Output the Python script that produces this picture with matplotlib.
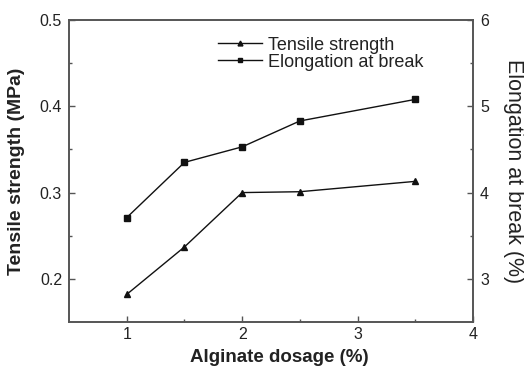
import matplotlib.pyplot as plt

plt.rcParams['font.family'] = ['Liberation Sans', 'DejaVu Sans']

dosage = [1.0, 1.5, 2.0, 2.5, 3.5]
tensile = [0.182, 0.237, 0.300, 0.301, 0.313]
elongation = [3.71, 4.35, 4.53, 4.83, 5.08]

txt = '#222222'
spine = '#555555'

fig = plt.figure(figsize=(5.24, 3.74), dpi=100)
ax = fig.add_axes([0.1317, 0.139, 0.771, 0.8075])
ax2 = ax.twinx()

l1, = ax.plot(dosage, tensile, '-', color='#111111', lw=1.0,
              marker='^', ms=5, label='Tensile strength')
l2, = ax2.plot(dosage, elongation, '-', color='#111111', lw=1.0,
               marker='s', ms=4, label='Elongation at break')

ax.set(xlim=(0.5, 4), ylim=(0.15, 0.5),
       xticks=[1, 2, 3, 4], yticks=[0.2, 0.3, 0.4, 0.5])
ax2.set(ylim=(2.5, 6), yticks=[3, 4, 5, 6])
ax.set_xticks([1.5, 2.5, 3.5], minor=True)
ax.set_yticks([0.25, 0.35, 0.45], minor=True)
ax2.set_yticks([3.5, 4.5, 5.5], minor=True)

for a in (ax, ax2):
    for s in a.spines.values():
        s.set_color(spine)
        s.set_linewidth(1.2)
    a.tick_params(direction='in', length=4, width=1, color=spine,
                  labelsize=11.5, labelcolor=txt)
    a.tick_params(which='minor', direction='in', length=2, width=1, color=spine)
ax.tick_params(axis='y', pad=5)
ax2.tick_params(axis='y', pad=5)

ax.set_xlabel('Alginate dosage (%)', fontsize=13.5, fontweight='bold',
              color=txt, va='center')
ax.xaxis.set_label_coords(0.52, -0.119)
ax.set_ylabel('Tensile strength (MPa)', fontsize=14, fontweight='bold',
              color=txt, va='center')
ax.yaxis.set_label_coords(-0.129, 0.5)
ax2.set_ylabel('Elongation at break (%)', fontsize=15.5, color=txt,
               rotation=270, va='center')
ax2.yaxis.set_label_coords(1.099, 0.5)

leg = ax.legend([l1, l2], [l1.get_label(), l2.get_label()],
                loc='upper left', bbox_to_anchor=(0.369, 0.945),
                borderaxespad=0, borderpad=0, markerscale=0.7,
                frameon=False, fontsize=13, handlelength=2.45,
                handletextpad=0.33, labelspacing=0.0)
for t in leg.get_texts():
    t.set_color(txt)

fig.savefig('out.png', dpi=100)
